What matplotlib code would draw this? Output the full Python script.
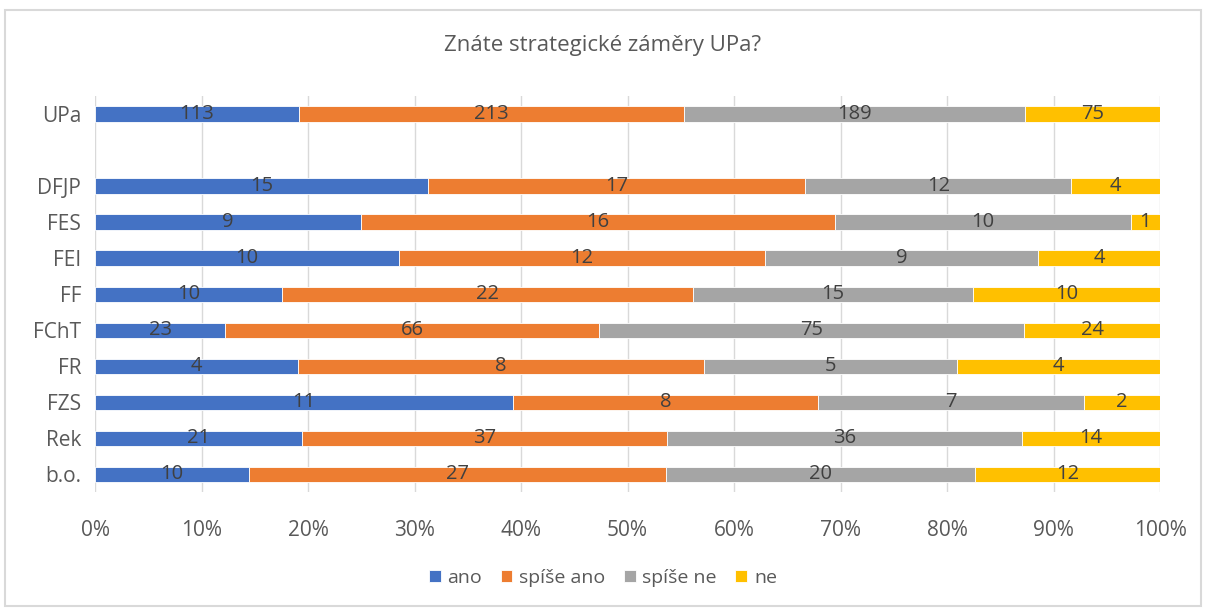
import numpy as np
import matplotlib.pyplot as plt
from matplotlib.patches import Rectangle

plt.rcParams['font.family'] = ['Open Sans', 'DejaVu Sans']

# Data (top to bottom, '' is the empty spacer row)
categories = ['UPa', '', 'DFJP', 'FES', 'FEI', 'FF', 'FChT', 'FR', 'FZS', 'Rek', 'b.o.']
ano = [113, 0, 15, 9, 10, 10, 23, 4, 11, 21, 10]
spise_ano = [213, 0, 17, 16, 12, 22, 66, 8, 8, 37, 27]
spise_ne = [189, 0, 12, 10, 9, 15, 75, 5, 7, 36, 20]
ne = [75, 0, 4, 1, 4, 10, 24, 4, 2, 14, 12]

series = [('ano', ano, '#4472C4'),
          ('spíše ano', spise_ano, '#ED7D31'),
          ('spíše ne', spise_ne, '#A5A5A5'),
          ('ne', ne, '#FFC000')]

txt = '#595959'
lbl = '#404040'

fig = plt.figure(figsize=(12.06, 6.08), dpi=100)
fig.patches.append(Rectangle((0.004, 0.004), 0.992, 0.98, transform=fig.transFigure,
                             fill=False, edgecolor='#D9D9D9', linewidth=1.5))
ax = fig.add_axes([0.0788, 0.19, 0.8832, 0.652])

totals = np.array([sum(v) for v in zip(ano, spise_ano, spise_ne, ne)], dtype=float)
y = np.arange(len(categories))
keep = totals > 0
left = np.zeros(len(categories))
for name, vals, color in series:
    vals = np.array(vals, dtype=float)
    frac = np.divide(vals, totals, out=np.zeros_like(vals), where=keep)
    ax.barh(y[keep], frac[keep], left=left[keep], height=0.43, color=color, label=name,
            edgecolor='white', linewidth=0.6, zorder=3)
    for yi, l, f, v in zip(y, left, frac, vals):
        if v > 0:
            ax.text(l + f / 2, yi, f'{int(v)}', ha='center', va='center',
                    fontsize=14.5, color=lbl, zorder=4)
    left += frac

ax.set_xlim(0, 1)
ax.set_ylim(len(categories) - 0.5, -0.5)
ax.set_yticks(y)
ax.set_yticklabels(categories)
ax.set_xticks(np.arange(0, 1.01, 0.1))
ax.set_xticklabels([f'{int(round(t * 100))}%' for t in np.arange(0, 1.01, 0.1)])
ax.tick_params(axis='both', length=0, labelsize=15, colors=txt)
ax.tick_params(axis='x', pad=20)
ax.tick_params(axis='y', pad=10)
ax.grid(axis='x', color='#D9D9D9', linewidth=1, zorder=0)
for s in ax.spines.values():
    s.set_visible(False)

fig.text(0.5, 0.925, 'Znáte strategické záměry UPa?', ha='center', va='center',
         fontsize=16, color=txt)

fig.legend(loc='center', bbox_to_anchor=(0.5, 0.05), ncol=4, frameon=False,
           fontsize=14, labelcolor=txt, handlelength=0.6, handleheight=0.6,
           handletextpad=0.35, columnspacing=0.95)

plt.savefig('out.png', dpi=100)
